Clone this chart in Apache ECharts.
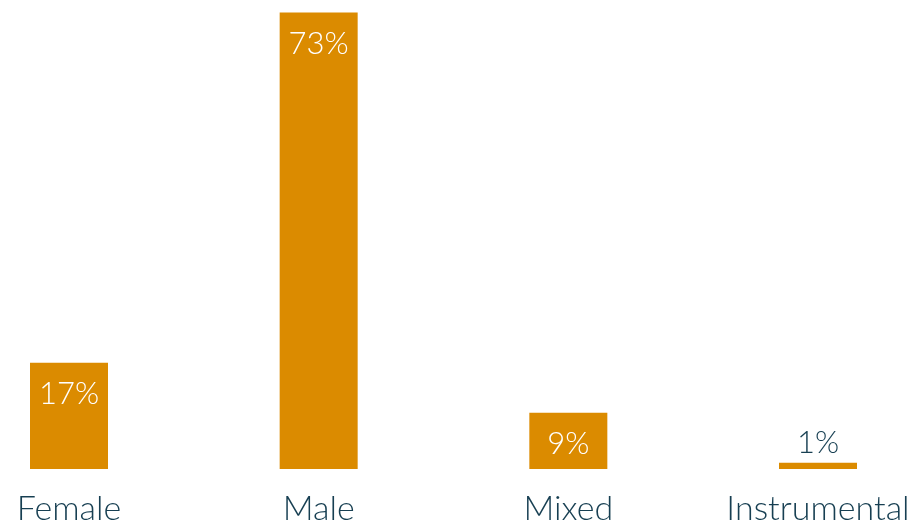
<!DOCTYPE html>
<html><head><meta charset="utf-8">
<script src="https://cdn.jsdelivr.net/npm/echarts@6/dist/echarts.min.js"></script>
<style>html,body{margin:0;padding:0;background:#fff}#c{width:915px;height:526px}</style>
</head><body><div id="c"></div>
<script>
const categories = ['Female', 'Male', 'Mixed', 'Instrumental'];
const values = [17, 73, 9, 1];
const labels = ['17%', '73%', '9%', '1%'];

const chart = echarts.init(document.getElementById('c'));
const font = 'Lato, "Open Sans", sans-serif';
const data = values.map((v, i) => {
  const d = { value: v };
  if (v < 5) {
    d.label = { position: 'top', color: '#173F52', distance: 4 };
  }
  return d;
});
chart.setOption({
  animation: false,
  grid: { left: 69, right: 97, top: 0, bottom: 56, containLabel: false },
  xAxis: {
    type: 'category', data: categories, boundaryGap: false,
    axisLine: { show: false }, axisTick: { show: false },
    axisLabel: { color: '#173F52', fontSize: 34, fontWeight: 300, fontFamily: font, margin: 23 }
  },
  yAxis: { type: 'value', min: 0, max: 75, show: false, splitLine: { show: false } },
  series: [{
    type: 'bar', data: data, barWidth: 78,
    itemStyle: { color: '#DB8B00' },
    label: {
      show: true, position: 'insideTop', distance: 16,
      color: '#ffffff', fontSize: 31, fontWeight: 300, fontFamily: font,
      formatter: p => labels[p.dataIndex]
    }
  }]
});
</script></body></html>
